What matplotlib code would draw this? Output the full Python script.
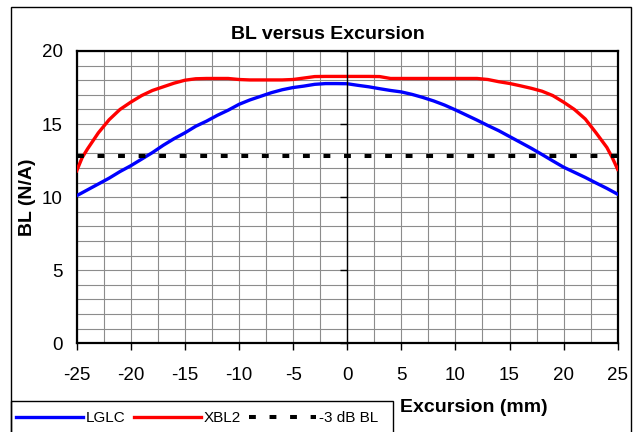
import matplotlib
matplotlib.use("Agg")
import matplotlib.pyplot as plt
from matplotlib.ticker import MultipleLocator
from matplotlib.patches import Rectangle

plt.rcParams['font.family'] = ['Liberation Sans', 'DejaVu Sans']
plt.rcParams['axes.unicode_minus'] = False

# ---- data ----
lglc_x = [-25, -24, -23, -22, -21, -20, -19, -18, -17, -16, -15, -14, -13, -12, -11,
          -10, -9, -8, -7, -6, -5, -4, -3, -2, -1, 0, 1, 2, 3, 4, 5, 6, 7, 8, 9, 10,
          11, 12, 13, 14, 15, 16, 17, 18, 19, 20, 21, 22, 23, 24, 25]
lglc_y = [10.1, 10.5, 10.9, 11.3, 11.75, 12.15, 12.6, 13.05, 13.55, 14.0, 14.4, 14.85,
          15.2, 15.6, 15.95, 16.35, 16.65, 16.9, 17.15, 17.35, 17.5, 17.6, 17.72, 17.77,
          17.77, 17.76, 17.65, 17.55, 17.42, 17.3, 17.2, 17.03, 16.82, 16.58, 16.3, 15.97,
          15.62, 15.27, 14.9, 14.55, 14.15, 13.75, 13.35, 12.92, 12.48, 12.05, 11.7, 11.35,
          10.97, 10.6, 10.2]

xbl2_x = [-25, -24.5, -24, -23, -22, -21, -20, -19, -18, -17, -16, -15, -14, -13, -12,
          -11, -10, -9, -8, -7, -6, -5, -4, -3, -2, -1, 0, 1, 2, 3, 4, 5, 6, 7, 8, 9,
          10, 11, 12, 13, 14, 15, 16, 17, 18, 19, 20, 21, 22, 23, 24, 24.5, 25]
xbl2_y = [11.8, 12.7, 13.3, 14.4, 15.3, 16.0, 16.5, 16.95, 17.3, 17.55, 17.8, 18.0, 18.1,
          18.12, 18.12, 18.12, 18.05, 18.02, 18.02, 18.02, 18.02, 18.05, 18.15, 18.25,
          18.26, 18.26, 18.26, 18.26, 18.26, 18.25, 18.12, 18.12, 18.12, 18.12, 18.12,
          18.12, 18.12, 18.12, 18.12, 18.05, 17.9, 17.78, 17.62, 17.45, 17.25, 16.95, 16.5,
          16.0, 15.35, 14.4, 13.4, 12.7, 11.9]

db3_x = [-25, 25]
db3_y = [12.8, 12.8]

series_labels = ["LGLC", "XBL2", "-3 dB BL"]
x_ticks = [-25, -20, -15, -10, -5, 0, 5, 10, 15, 20, 25]
y_ticks = [0, 5, 10, 15, 20]

W, H = 640, 432
fig = plt.figure(figsize=(6.4, 4.32), dpi=100)
fig.patch.set_facecolor('white')

ax = fig.add_axes([76.7 / W, 1 - 343.3 / H, (617.7 - 76.7) / W, (343.3 - 51) / H])
ax.set_xlim(-25, 25)
ax.set_ylim(0, 20)

# grid
ax.xaxis.set_minor_locator(MultipleLocator(2.5))
ax.yaxis.set_minor_locator(MultipleLocator(1))
ax.grid(which='both', color='#8c8c8c', linewidth=0.8)
ax.set_axisbelow(True)

l1, = ax.plot(lglc_x, lglc_y, color='#0000ff', lw=2.4, label=series_labels[0], zorder=3)
l2, = ax.plot(xbl2_x, xbl2_y, color='#ff0000', lw=2.4, label=series_labels[1], zorder=3)
l3, = ax.plot(db3_x, db3_y, color='black', lw=2.9, dashes=(1.7, 3.4),
              dash_capstyle='butt', label=series_labels[2], zorder=3)

ax.set_xticks(x_ticks)
ax.set_yticks(y_ticks)
ax.set_xticklabels([str(v) for v in x_ticks])
ax.set_yticklabels([str(v) for v in y_ticks])
ax.tick_params(axis='x', which='major', direction='out', length=5, width=1,
               labelsize=13.5, pad=12)
ax.tick_params(axis='y', which='major', length=0, labelsize=13.5, pad=10)
ax.tick_params(which='minor', length=0)
for s in ax.spines.values():
    s.set_linewidth(1.6)
    s.set_color('black')

# y axis line at x = 0 with ticks
ax2 = ax.twinx()
ax2.set_ylim(0, 20)
ax2.set_yticks(y_ticks)
ax2.spines['right'].set_position(('data', 0))
ax2.spines['right'].set_linewidth(1.0)
for k in ['left', 'top', 'bottom']:
    ax2.spines[k].set_visible(False)
ax2.tick_params(axis='y', direction='in', length=5, width=1, labelright=False)

# texts
fig.text(328 / W, 1 - 38.8 / H, "BL versus Excursion", ha='center', va='baseline',
         fontsize=14, fontweight='bold')
fig.text(28 / W, 1 - 197 / H, "BL (N/A)", ha='center', va='center', rotation=90,
         fontsize=14, fontweight='bold')
fig.text(400 / W, 1 - 412 / H, "Excursion (mm)", ha='left', va='baseline',
         fontsize=14, fontweight='bold')

# outer frame and legend box
fig.add_artist(Rectangle((10.7 / W, -0.1), (630.7 - 10.7) / W, 1.1 - 6.7 / H,
                         transform=fig.transFigure, fill=False, edgecolor='black', lw=1.0))
fig.add_artist(Rectangle((10.7 / W, -0.1), (393 - 10.7) / W, 0.1 + 1 - 401.5 / H,
                         transform=fig.transFigure, fill=False, edgecolor='black', lw=1.0))

fig.legend(handles=[l1, l2, l3], labels=series_labels, loc='upper left',
           bbox_to_anchor=(10.7 / W, 1 - 406 / H), ncol=3, frameon=False,
           fontsize=11, handlelength=4.4, handletextpad=0.2, columnspacing=0.52,
           borderpad=0.33, borderaxespad=0)

fig.savefig("out.png", dpi=100)
